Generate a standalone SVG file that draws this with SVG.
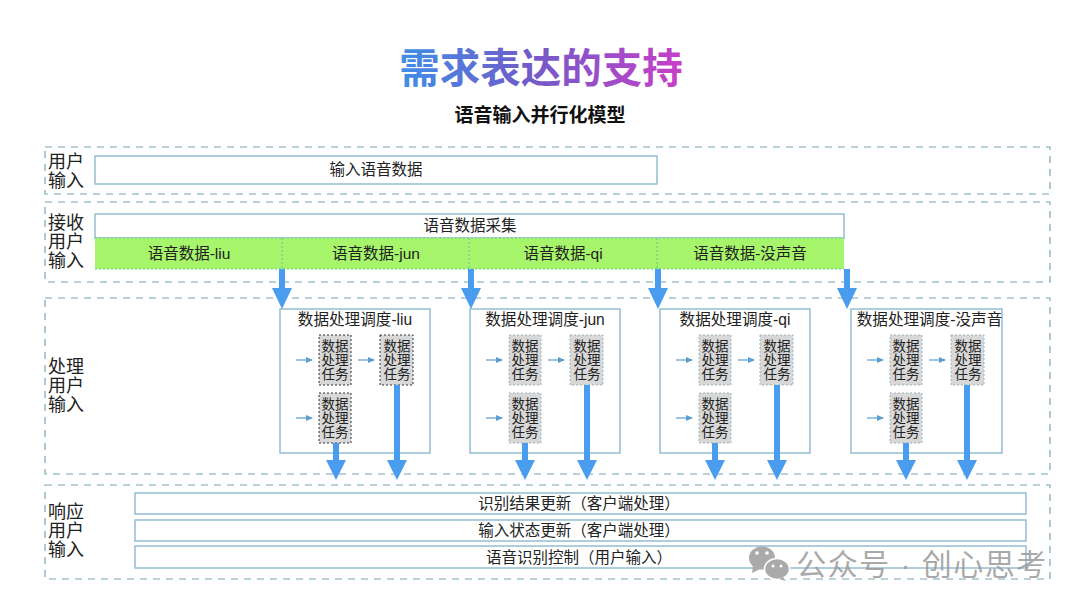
<svg xmlns="http://www.w3.org/2000/svg" width="1080" height="608" viewBox="0 0 1080 608">
<defs>
<linearGradient id="tg" x1="400" y1="0" x2="682" y2="0" gradientUnits="userSpaceOnUse"><stop offset="0" stop-color="#3f8fe8"/><stop offset="0.45" stop-color="#6f5cc8"/><stop offset="1" stop-color="#c83fc8"/></linearGradient>
<marker id="thin" markerWidth="7" markerHeight="7" refX="6" refY="3.500" orient="auto" markerUnits="userSpaceOnUse"><path d="M0 0.500L7 3.500L0 6.500z" fill="#5a9fd0"/></marker>
</defs>
<style>
text{font-family:"Liberation Sans","Noto Sans CJK SC",sans-serif;fill:#222;text-anchor:middle}
.panel{fill:none;stroke:#78a6b6;stroke-width:1.2;stroke-dasharray:7 6}
.box{fill:#fff;stroke:#8db8cf;stroke-width:1.4}
.green{fill:#a6f56a}
.div{fill:none;stroke:#6cc0a0;stroke-width:1;stroke-dasharray:2 2}
.t{font-size:15.500px}
.lab{font-size:18px;text-anchor:start}
.task{fill:#d8d8d8;stroke:#333;stroke-width:1;stroke-dasharray:2 2}
.task2{fill:#d8d8d8;stroke:#9db4c0;stroke-width:1;stroke-dasharray:2 2}
.tt{font-size:13.500px}
.st{font-size:15.600px}
.thin{stroke:#5a9fd0;stroke-width:1.200;fill:none;marker-end:url(#thin)}
.fat{fill:#4a9cee}
</style>
<rect width="1080" height="608" fill="#fff"/>
<text x="541" y="83" style="font-size:40.500px;font-weight:700;fill:url(#tg)">需求表达的支持</text>
<text x="540" y="122" style="font-size:19px;font-weight:700;fill:#111">语音输入并行化模型</text>

<g id="panel-input"><rect class="panel" x="45" y="147" width="1005" height="47"/>
<text class="lab" x="48" y="168">用户</text><text class="lab" x="48" y="187">输入</text>
<rect class="box" x="95" y="156" width="562" height="28"/><text class="t" x="376" y="175">输入语音数据</text></g>

<g id="panel-receive"><rect class="panel" x="45" y="202" width="1005" height="80"/>
<text class="lab" x="48" y="229">接收</text><text class="lab" x="48" y="248">用户</text><text class="lab" x="48" y="267">输入</text>
<rect class="box" x="95" y="214" width="749" height="24"/><text class="t" x="470" y="231">语音数据采集</text>
<rect class="green" x="95" y="238" width="749" height="31"/>
<path class="div" d="M95 238H844M95 269H844M282 238V269M469 238V269M657 238V269"/>
<text class="t" x="189" y="259">语音数据-liu</text><text class="t" x="376" y="259">语音数据-jun</text><text class="t" x="563" y="259">语音数据-qi</text><text class="t" x="750" y="259">语音数据-没声音</text></g>

<g id="panel-process"><rect class="panel" x="45" y="298" width="1005" height="176"/>
<text class="lab" x="48" y="373">处理</text><text class="lab" x="48" y="392">用户</text><text class="lab" x="48" y="411">输入</text></g>

<g id="sched-liu"><rect class="box" x="280" y="309" width="150" height="144"/><text class="st" x="355" y="325">数据处理调度-liu</text>
<rect class="task" x="319" y="335" width="32" height="50"/><text class="tt" x="335" y="351">数据</text><text class="tt" x="335" y="365">处理</text><text class="tt" x="335" y="379">任务</text>
<rect class="task" x="380" y="335" width="33" height="50"/><text class="tt" x="397" y="351">数据</text><text class="tt" x="397" y="365">处理</text><text class="tt" x="397" y="379">任务</text>
<rect class="task" x="319" y="393" width="32" height="50"/><text class="tt" x="335" y="409">数据</text><text class="tt" x="335" y="423">处理</text><text class="tt" x="335" y="437">任务</text></g>

<g id="sched-jun"><rect class="box" x="470" y="309" width="150" height="144"/><text class="st" x="545" y="325">数据处理调度-jun</text>
<rect class="task2" x="509" y="335" width="32" height="50"/><text class="tt" x="525" y="351">数据</text><text class="tt" x="525" y="365">处理</text><text class="tt" x="525" y="379">任务</text>
<rect class="task2" x="570" y="335" width="33" height="50"/><text class="tt" x="587" y="351">数据</text><text class="tt" x="587" y="365">处理</text><text class="tt" x="587" y="379">任务</text>
<rect class="task2" x="509" y="393" width="32" height="50"/><text class="tt" x="525" y="409">数据</text><text class="tt" x="525" y="423">处理</text><text class="tt" x="525" y="437">任务</text></g>

<g id="sched-qi"><rect class="box" x="660" y="309" width="150" height="144"/><text class="st" x="735" y="325">数据处理调度-qi</text>
<rect class="task2" x="699" y="335" width="32" height="50"/><text class="tt" x="715" y="351">数据</text><text class="tt" x="715" y="365">处理</text><text class="tt" x="715" y="379">任务</text>
<rect class="task2" x="760" y="335" width="33" height="50"/><text class="tt" x="777" y="351">数据</text><text class="tt" x="777" y="365">处理</text><text class="tt" x="777" y="379">任务</text>
<rect class="task2" x="699" y="393" width="32" height="50"/><text class="tt" x="715" y="409">数据</text><text class="tt" x="715" y="423">处理</text><text class="tt" x="715" y="437">任务</text></g>

<g id="sched-silent"><rect class="box" x="851" y="309" width="151" height="144"/><text class="st" x="929.500" y="325">数据处理调度-没声音</text>
<rect class="task2" x="890" y="335" width="32" height="50"/><text class="tt" x="906" y="351">数据</text><text class="tt" x="906" y="365">处理</text><text class="tt" x="906" y="379">任务</text>
<rect class="task2" x="951" y="335" width="33" height="50"/><text class="tt" x="968" y="351">数据</text><text class="tt" x="968" y="365">处理</text><text class="tt" x="968" y="379">任务</text>
<rect class="task2" x="890" y="393" width="32" height="50"/><text class="tt" x="906" y="409">数据</text><text class="tt" x="906" y="423">处理</text><text class="tt" x="906" y="437">任务</text></g>

<g id="panel-respond"><rect class="panel" x="45" y="485" width="1005" height="94"/>
<text class="lab" x="48" y="518">响应</text><text class="lab" x="48" y="537">用户</text><text class="lab" x="48" y="556">输入</text>
<rect class="box" x="135" y="493" width="891" height="21"/><text class="t" x="579" y="509">识别结果更新（客户端处理）</text>
<rect class="box" x="135" y="520" width="891" height="21"/><text class="t" x="579" y="536">输入状态更新（客户端处理）</text>
<rect class="box" x="135" y="546" width="891" height="22"/><text class="t" x="579" y="563">语音识别控制（用户输入）</text></g>

<g id="connectors">
<path class="fat" d="M279 269h6V288h7L282 309L272 288h7z"/>
<path class="fat" d="M468 269h6V288h7L471 309L461 288h7z"/>
<path class="fat" d="M655 269h6V288h7L658 309L648 288h7z"/>
<path class="fat" d="M844 269h6V288h7L847 309L837 288h7z"/>
<path class="fat" d="M333 443h6V460h7L336 480L326 460h7z"/>
<path class="fat" d="M394 385h6V460h7L397 480L387 460h7z"/>
<path class="fat" d="M522 443h6V460h7L525 480L515 460h7z"/>
<path class="fat" d="M584 385h6V460h7L587 480L577 460h7z"/>
<path class="fat" d="M712 443h6V460h7L715 480L705 460h7z"/>
<path class="fat" d="M774 385h6V460h7L777 480L767 460h7z"/>
<path class="fat" d="M903 443h6V460h7L906 480L896 460h7z"/>
<path class="fat" d="M964 385h6V460h7L967 480L957 460h7z"/>
<path class="thin" d="M296 360H312"/><path class="thin" d="M358 360H374"/><path class="thin" d="M296 418H312"/>
<path class="thin" d="M486 360H502"/><path class="thin" d="M548 360H564"/><path class="thin" d="M486 418H502"/>
<path class="thin" d="M676 360H692"/><path class="thin" d="M738 360H754"/><path class="thin" d="M676 418H692"/>
<path class="thin" d="M867 360H883"/><path class="thin" d="M929 360H945"/><path class="thin" d="M867 418H883"/>
</g>

<g id="watermark">
<ellipse cx="762" cy="558" rx="13" ry="11.500" fill="#aaa"/>
<path d="M753 566l-1 7l8-4z" fill="#aaa"/>
<ellipse cx="777" cy="569" rx="12.500" ry="10.500" fill="#aaa" stroke="#fff" stroke-width="1.500"/>
<path d="M783 577l3 4l-7-2z" fill="#aaa"/>
<circle cx="757" cy="553" r="1.800" fill="#fff"/><circle cx="767" cy="553" r="1.800" fill="#fff"/>
<circle cx="773" cy="566" r="1.500" fill="#fff"/><circle cx="781" cy="566" r="1.500" fill="#fff"/>
<text x="922" y="575" style="font-size:30px;letter-spacing:1.500px;fill:#9a9a9a;fill-opacity:.85">公众号 · 创心思考</text>
</g>
</svg>
